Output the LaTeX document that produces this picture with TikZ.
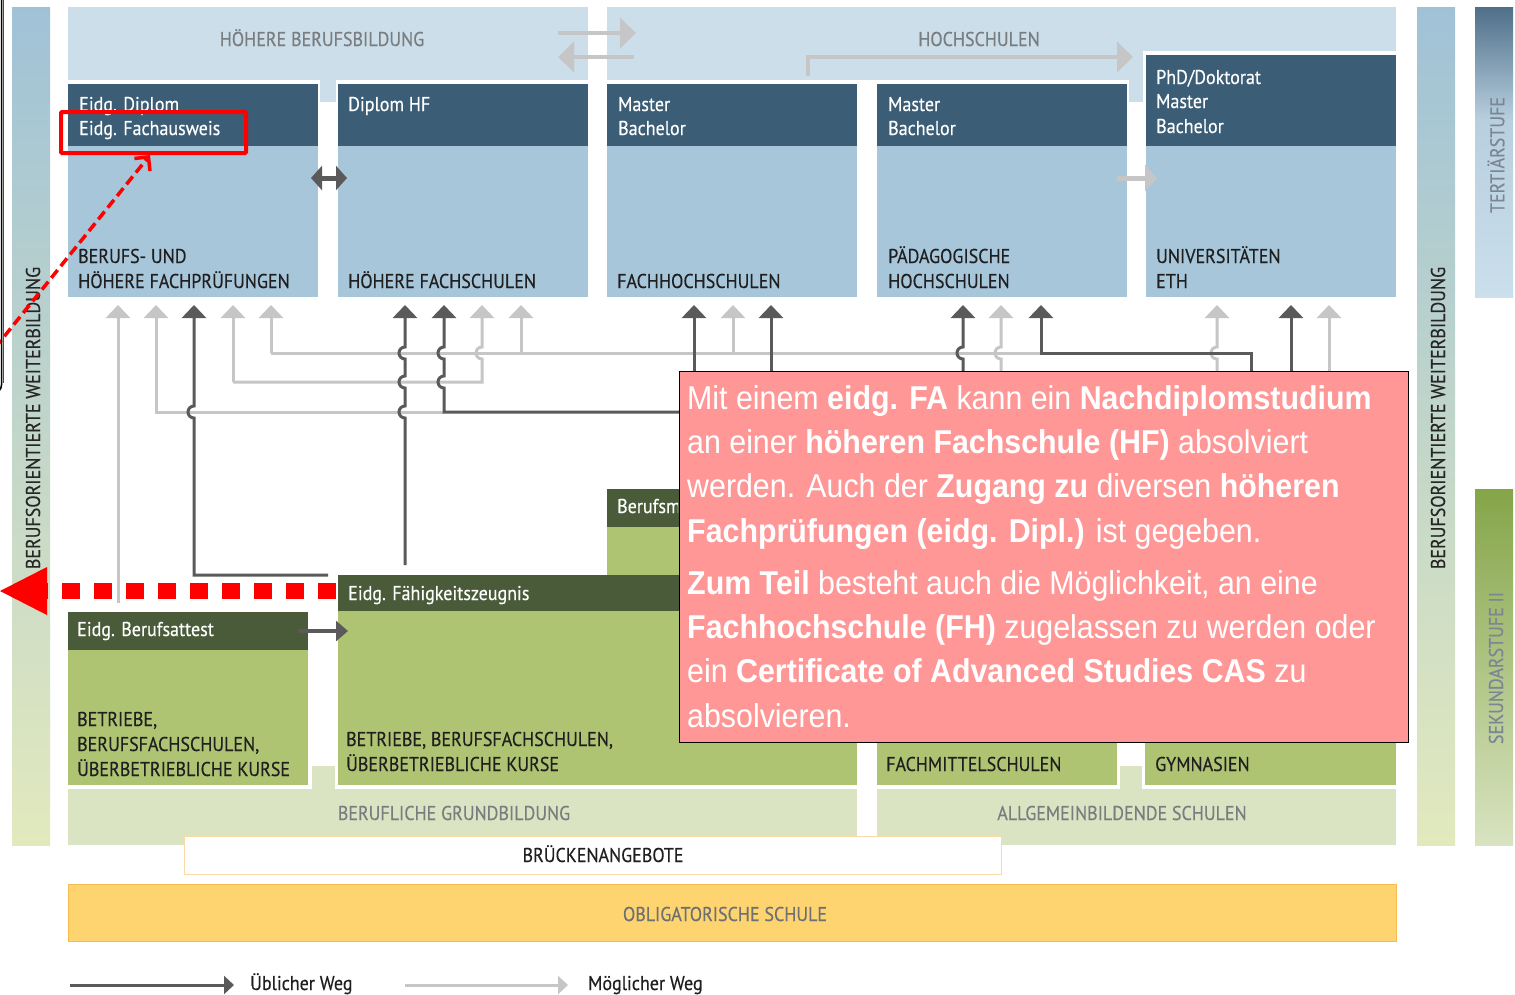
\documentclass[tikz,border=0pt]{standalone}
\usepackage{fontspec}
\setmainfont{PT Sans}[FakeStretch=0.9,FakeBold=0.35]
\newfontfamily\pinkfont{Liberation Sans}[FakeStretch=0.92]
\usetikzlibrary{arrows.meta}
\definecolor{hbg}{HTML}{CBDEE9}
\definecolor{hdark}{HTML}{3B5D75}
\definecolor{hbody}{HTML}{A7C6DA}
\definecolor{gdark}{HTML}{4A5B39}
\definecolor{gbody}{HTML}{AEC472}
\definecolor{gbg}{HTML}{DAE4C3}
\definecolor{adark}{HTML}{5A5A5A}
\definecolor{alight}{HTML}{C6C6C6}
\definecolor{lbl}{HTML}{7A7D80}
\definecolor{pinkbox}{HTML}{FF9797}
\definecolor{obl}{HTML}{FDD46F}
\definecolor{oblb}{HTML}{F6BC50}
\definecolor{bruk}{HTML}{F9D9A6}
\definecolor{barblue}{HTML}{A0C2D7}
\definecolor{barmid}{HTML}{C9DCD2}
\definecolor{bargreen}{HTML}{E2E9BD}
\definecolor{tertop}{HTML}{4F6F89}
\definecolor{termid}{HTML}{B8CFDF}
\definecolor{terbot}{HTML}{CBDFEC}
\definecolor{sektop}{HTML}{85A548}
\definecolor{sekbot}{HTML}{D8E3C0}
\definecolor{sidelbl}{HTML}{7A8793}
\tikzset{
  txt/.style={inner sep=0pt, anchor=base west, font=\fontsize{20}{24}\selectfont},
  hdr/.style={txt, text=white},
  bodytxt/.style={txt, text=black!88},
  bglbl/.style={inner sep=0pt, anchor=base, font=\fontsize{20}{24}\selectfont, text=lbl},
  sidetxt/.style={rotate=90, inner sep=0, font=\fontsize{20}{22}\selectfont},
  lightarr/.style={draw=alight, line width=3pt, -{Triangle[width=24pt,length=13pt]}},
  darkarr/.style={draw=adark, line width=3pt, -{Triangle[width=24pt,length=13pt]}},
  lightln/.style={draw=alight, line width=3pt},
  darkln/.style={draw=adark, line width=3pt},
}
\begin{document}
\begin{tikzpicture}[x=1pt,y=-1pt]
\useasboundingbox (0,0) rectangle (1515,994);
\fill[white] (0,0) rectangle (1515,994);

% side bars
\shade[top color=barblue, middle color=barmid, bottom color=bargreen] (12,7) rectangle (50,845);
\shade[top color=barblue, middle color=barmid, bottom color=bargreen] (1417,7) rectangle (1455,845);
\shade[top color=tertop, bottom color=termid] (1475,7) rectangle (1513,120);
\shade[top color=termid, bottom color=terbot] (1475,119.5) rectangle (1513,297);
\shade[top color=sektop, bottom color=sekbot] (1475,489) rectangle (1513,845);
\node[sidetxt, text=black!85] (lbw) at (33,418) {BERUFSORIENTIERTE WEITERBILDUNG};
\node[sidetxt, text=black!85] (rbw) at (1438,418) {BERUFSORIENTIERTE WEITERBILDUNG};
\node[sidetxt, text=sidelbl] (ter) at (1496,155) {TERTIÄRSTUFE};
\node[sidetxt, text=sidelbl] (sek) at (1496,668) {SEKUNDARSTUFE II};

% top backgrounds
\fill[hbg] (68,7) rectangle (588,80);
\fill[hbg] (320,78) rectangle (336,102);
\fill[hbg] (607,7) rectangle (1396,51);
\fill[hbg] (607,49) rectangle (1130,80);
\fill[hbg] (1129,49) rectangle (1143,102);
\node[bglbl] (hbb) at (322,46) {HÖHERE BERUFSBILDUNG};
\node[bglbl] (hs) at (979,46) {HOCHSCHULEN};

% tertiary boxes
\fill[hdark] (68,84) rectangle (318,146);   \fill[hbody] (68,146) rectangle (318,297);
\fill[hdark] (338,84) rectangle (588,146);  \fill[hbody] (338,146) rectangle (588,297);
\fill[hdark] (607,84) rectangle (857,146);  \fill[hbody] (607,146) rectangle (857,297);
\fill[hdark] (877,84) rectangle (1127,146); \fill[hbody] (877,146) rectangle (1127,297);
\fill[hdark] (1146,55) rectangle (1396,146); \fill[hbody] (1146,146) rectangle (1396,297);

\node[hdr] (d1a) at (79,111) {Eidg. Diplom};
\node[hdr] (d1b) at (79,135) {Eidg. Fachausweis};
\node[hdr] (d2a) at (348,111) {Diplom HF};
\node[hdr] (d3a) at (618,111) {Master};
\node[hdr] (d3b) at (618,135) {Bachelor};
\node[hdr] (d4a) at (888,111) {Master};
\node[hdr] (d4b) at (888,135) {Bachelor};
\node[hdr] (d5a) at (1156,84) {PhD/Doktorat};
\node[hdr] (d5b) at (1156,108) {Master};
\node[hdr] (d5c) at (1156,133) {Bachelor};

\node[bodytxt] (b1a) at (78,263) {BERUFS- UND};
\node[bodytxt] (b1b) at (78,288) {HÖHERE FACHPRÜFUNGEN};
\node[bodytxt] (b2a) at (348,288) {HÖHERE FACHSCHULEN};
\node[bodytxt] (b3a) at (617,288) {FACHHOCHSCHULEN};
\node[bodytxt] (b4a) at (888,263) {PÄDAGOGISCHE};
\node[bodytxt] (b4b) at (888,288) {HOCHSCHULEN};
\node[bodytxt] (b5a) at (1156,263) {UNIVERSITÄTEN};
\node[bodytxt] (b5b) at (1156,288) {ETH};

% top arrows
\coordinate (hbR) at (636,33); \coordinate (hbL) at (558,57);
\draw[alight, line width=4pt, -{Triangle[width=30pt,length=16pt]}] (558,33) -- (hbR);
\draw[alight, line width=4pt, -{Triangle[width=30pt,length=16pt]}] (634,57) -- (hbL);
\coordinate (hsT) at (1133,57);
\draw[alight, line width=4pt, -{Triangle[width=30pt,length=16pt]}] (808,76) -- (808,57) -- (hsT);
\draw[adark, line width=5pt, {Triangle[width=24pt,length=11pt]}-{Triangle[width=24pt,length=11pt]}] (311,178) -- (347,178);
\draw[alight, line width=5pt, -{Triangle[width=26pt,length=12pt]}] (1117,178) -- (1157,178);

% connectors: light first
\draw[lightarr] (118,603) -- (118,305);
\draw[lightarr] (444,412) -- (156,412) -- (156,305);
\draw[lightarr] (233,382) -- (233,305);
\draw[lightarr] (233,382) -- (482,382) -- (482,359) arc[start angle=90,end angle=270,radius=6] -- (482,305);
\draw[lightln] (271,353) -- (1041,353);
\draw[lightarr] (271,353) -- (271,305);
\draw[lightarr] (521,353) -- (521,305);
\draw[lightarr] (733,353) -- (733,305);
\draw[lightarr] (1001,372) -- (1001,359) arc[start angle=90,end angle=270,radius=6] -- (1001,305);
\draw[lightarr] (1217,372) -- (1217,359) arc[start angle=90,end angle=270,radius=6] -- (1217,305);
\draw[lightarr] (1329,372) -- (1329,305);
% dark
\draw[darkarr] (328,575) -- (194,575) -- (194,418) arc[start angle=90,end angle=270,radius=6] -- (194,305);
\draw[darkarr] (405,565) -- (405,418) arc[start angle=90,end angle=270,radius=6] -- (405,388) arc[start angle=90,end angle=270,radius=6] -- (405,359) arc[start angle=90,end angle=270,radius=6] -- (405,305);
\draw[darkarr] (680,412) -- (444,412) -- (444,388) arc[start angle=90,end angle=270,radius=6] -- (444,359) arc[start angle=90,end angle=270,radius=6] -- (444,305);
\draw[darkarr] (694,372) -- (694,305);
\draw[darkarr] (771,372) -- (771,305);
\draw[darkarr] (963,372) -- (963,359) arc[start angle=90,end angle=270,radius=6] -- (963,305);
\draw[darkarr] (1251,372) -- (1251,353) -- (1041,353) -- (1041,305);
\draw[darkarr] (1291,372) -- (1291,305);

% lower section
\fill[gbg] (68,789) rectangle (857,845);
\fill[gbg] (312,766) rectangle (335,790);
\fill[gbg] (877,789) rectangle (1396,845);
\fill[gbg] (1120,766) rectangle (1142,790);
\fill[gdark] (607,489) rectangle (857,527); \fill[gbody] (607,527) rectangle (857,575);
\fill[gdark] (338,575) rectangle (857,611); \fill[gbody] (338,611) rectangle (857,785);
\fill[gdark] (68,612) rectangle (308,650);  \fill[gbody] (68,650) rectangle (308,785);
\fill[gdark] (877,520) rectangle (1117,560); \fill[gbody] (877,560) rectangle (1117,785);
\fill[gdark] (1145,520) rectangle (1396,560); \fill[gbody] (1145,560) rectangle (1396,785);
\draw[adark, line width=4pt, -{Triangle[width=20pt,length=12pt]}] (298,631) -- (348,631);

\begin{scope}
\clip (600,480) rectangle (678,530);
\node[hdr] (bm) at (617,513) {Berufsm};
\end{scope}
\node[hdr] (efz) at (348,600) {Eidg. Fähigkeitszeugnis};
\node[hdr] (eba) at (77,636) {Eidg. Berufsattest};
\node[bodytxt] (l1a) at (77,726) {BETRIEBE,};
\node[bodytxt] (l1b) at (77,751) {BERUFSFACHSCHULEN,};
\node[bodytxt] (l1c) at (77,776) {ÜBERBETRIEBLICHE KURSE};
\node[bodytxt] (l2a) at (346,746) {BETRIEBE, BERUFSFACHSCHULEN,};
\node[bodytxt] (l2b) at (346,771) {ÜBERBETRIEBLICHE KURSE};
\node[bodytxt] (fms) at (886,771) {FACHMITTELSCHULEN};
\node[bodytxt] (gym) at (1155,771) {GYMNASIEN};
\node[bglbl] (bg) at (454,820) {BERUFLICHE GRUNDBILDUNG};
\node[bglbl] (as) at (1122,820) {ALLGEMEINBILDENDE SCHULEN};

\draw[bruk, fill=white, line width=1pt] (184,836) rectangle (1001,874);
\node[inner sep=0, anchor=base, font=\fontsize{20}{24}\selectfont, text=black!88] (bru) at (603,862) {BRÜCKENANGEBOTE};
\draw[oblb, fill=obl, line width=1pt] (68,884) rectangle (1396,941);
\node[inner sep=0, anchor=base, font=\fontsize{20}{24}\selectfont, text=lbl!90!black] (obs) at (725,921) {OBLIGATORISCHE SCHULE};

% legend
\coordinate (lg1) at (234,985); \coordinate (lg2) at (568,985);
\draw[adark, line width=3pt, -{Triangle[width=18pt,length=10pt]}] (70,985) -- (lg1);
\draw[alight, line width=3pt, -{Triangle[width=18pt,length=10pt]}] (405,985) -- (lg2);
\node[txt, text=black!88] (leg1) at (250,990) {Üblicher Weg};
\node[txt, text=black!88] (leg2) at (588,990) {Möglicher Weg};

% pink note
\node[draw=black, line width=1.2pt, fill=pinkbox, minimum width=729pt, minimum height=371pt, anchor=north west, inner sep=0] (pink) at (679,371) {};
\node[anchor=north west, align=left, inner sep=0, text=white, font=\pinkfont\fontsize{33}{44.3}\selectfont] (pinktext) at (687,385)
{Mit einem \textbf{eidg. FA} kann ein \textbf{Nachdiplomstudium}\\
an einer \textbf{höheren Fachschule (HF)} absolviert\\
werden. Auch der \textbf{Zugang zu} diversen \textbf{höheren}\\
\textbf{Fachprüfungen (eidg. Dipl.)} ist gegeben.\\[8pt]
\textbf{Zum Teil} besteht auch die Möglichkeit, an eine\\
\textbf{Fachhochschule (FH)} zugelassen zu werden oder\\
ein \textbf{Certificate of Advanced Studies CAS} zu\\
absolvieren.};

% red annotations
\draw[red, line width=4pt, rounded corners=1pt] (61,112) rectangle (246,153);
\coordinate (rtip) at (150,155);
\draw[red, line width=3.5pt, dash pattern=on 10pt off 5pt, -{Straight Barb[length=10pt,width=20pt]}] (-5,348) -- (rtip);
\coordinate (dotS) at (336,591); \coordinate (dotE) at (40,591);
\draw[red, line width=16pt, dash pattern=on 18pt off 14pt] (dotS) -- (dotE);
\fill[red] (0,591) -- (47,567) -- (47,615) -- cycle;
\draw[black, line width=1.5pt] (1.5,-2) -- (1.5,385) arc[start angle=0,end angle=90,radius=8];
\draw[red, line width=1pt] (3.5,-2) -- (3.5,383);
\end{tikzpicture}
\end{document}
